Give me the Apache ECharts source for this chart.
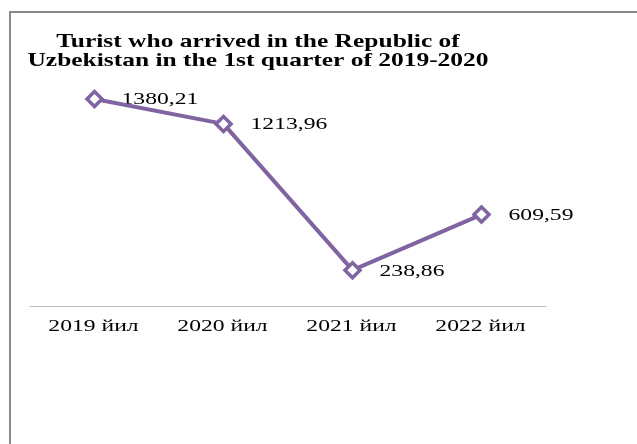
<!DOCTYPE html>
<html><head><meta charset="utf-8">
<script src="https://cdn.jsdelivr.net/npm/echarts@6/dist/echarts.min.js"></script>
<style>html,body{margin:0;padding:0;background:#fff}#c{width:637px;height:444px}</style>
</head><body><div id="c"></div>
<script>
const categories = ['2019 йил', '2020 йил', '2021 йил', '2022 йил'];
const values = [1380.21, 1213.96, 238.86, 609.59];
const titleLines = ['Turist who arrived in the Republic of', 'Uzbekistan in the 1st quarter of 2019-2020'];

const chart = echarts.init(document.getElementById('c'));
chart.setOption({
  animation: false,
  backgroundColor: '#fff',
  grid: {left: 30, right: 91, top: 66, bottom: 138},
  xAxis: {
    type: 'category', data: categories, boundaryGap: true,
    axisLine: {lineStyle: {color: '#bfbfbf', width: 1}},
    axisTick: {show: false},
    axisLabel: {show: false}
  },
  yAxis: {type: 'value', min: 0, max: 1600, show: false, splitLine: {show: false}},
  series: [{
    type: 'line', data: values,
    symbol: 'diamond', symbolSize: 15,
    lineStyle: {color: '#8064A2', width: 4},
    itemStyle: {color: '#fff', borderColor: '#8064A2', borderWidth: 3.5},
    label: {show: false}
  }]
});

const fmt = v => v.toFixed(2).replace('.', ',');
const serif = 'Liberation Serif, Times New Roman, serif';
const SX = 1.39;
const graphics = [{
  type: 'polyline', silent: true,
  shape: {points: [[10, 444], [10, 12], [637, 12]]},
  style: {stroke: '#8a8a8a', lineWidth: 2, fill: null}
}];
titleLines.forEach((t, i) => {
  graphics.push({
    type: 'text', silent: true, x: 258, y: 42.5 + i * 19, scaleX: 1.34,
    style: {text: t, x: 0, y: 0, font: 'bold 19px ' + serif, fill: '#000',
            textAlign: 'center', textVerticalAlign: 'middle', align: 'center', verticalAlign: 'middle'}
  });
});
const axisY = chart.convertToPixel({yAxisIndex: 0}, 0);
categories.forEach((c, i) => {
  const px = chart.convertToPixel({xAxisIndex: 0}, i);
  graphics.push({
    type: 'text', silent: true, x: px - 1, y: axisY + 21, scaleX: SX,
    style: {text: c, x: 0, y: 0, font: '17px ' + serif, fill: '#000',
            textAlign: 'center', textVerticalAlign: 'middle', align: 'center', verticalAlign: 'middle'}
  });
});
values.forEach((v, i) => {
  const p = chart.convertToPixel({seriesIndex: 0}, [i, v]);
  graphics.push({
    type: 'text', silent: true, x: p[0] + 27, y: p[1] + 1, scaleX: SX,
    style: {text: fmt(v), x: 0, y: 0, font: '17px ' + serif, fill: '#000',
            textAlign: 'left', textVerticalAlign: 'middle', align: 'left', verticalAlign: 'middle'}
  });
});
chart.setOption({graphic: graphics});
</script></body></html>
